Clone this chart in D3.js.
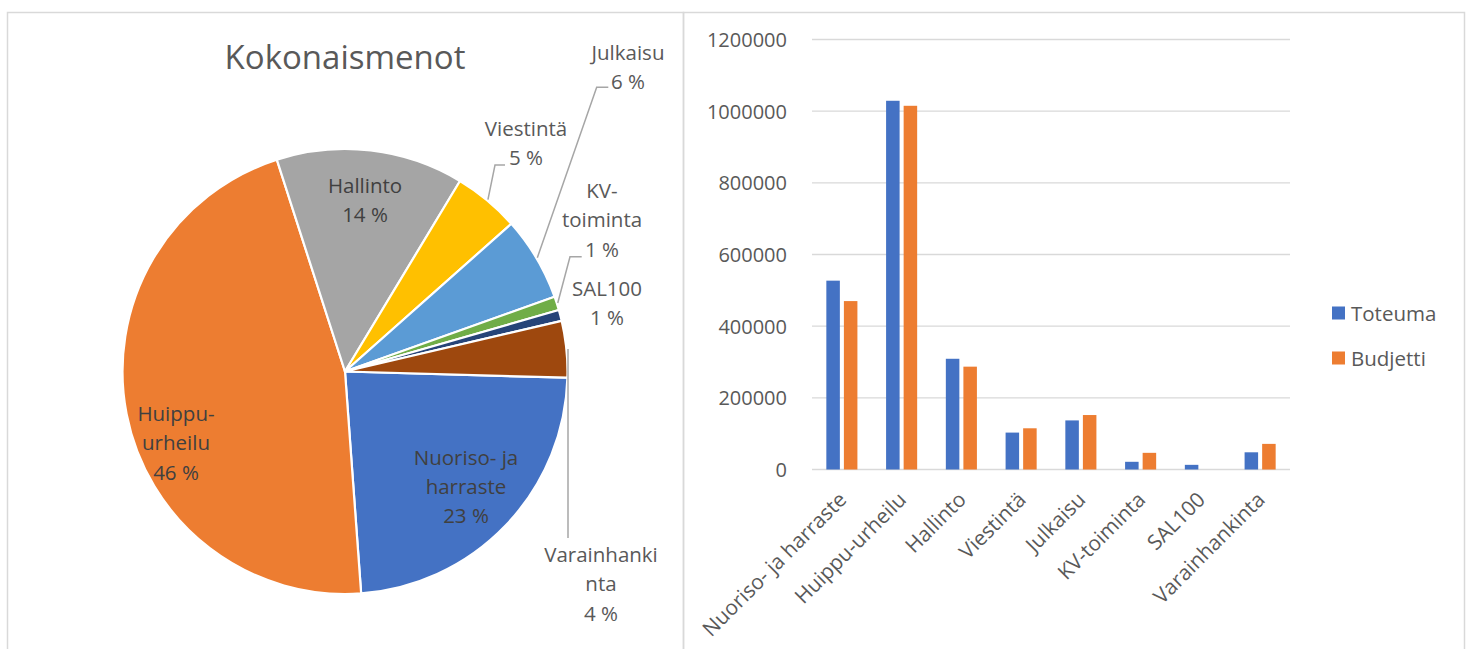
<!DOCTYPE html>
<html><head><meta charset="utf-8">
<script src="https://cdn.jsdelivr.net/npm/d3@7"></script>
<style>
html,body{margin:0;padding:0;background:#fff;}
svg{display:block;font-family:"Open Sans",sans-serif;}
</style></head>
<body>
<svg id="c" width="1471" height="649"></svg>
<script>
// ---- data ----
const categories = ["Nuoriso- ja harraste","Huippu-urheilu","Hallinto","Viestintä","Julkaisu","KV-toiminta","SAL100","Varainhankinta"];
const toteuma = [527000, 1029000, 309000, 103000, 137000, 21500, 13000, 48000];
const budjetti = [470000, 1015000, 287000, 115000, 152000, 46500, 0, 71500];
const seriesNames = ["Toteuma","Budjetti"];
const yTicks = [0, 200000, 400000, 600000, 800000, 1000000, 1200000];
const pieTitle = "Kokonaismenot";
const pieShares = [23.4, 46.2, 13.6, 4.8, 6.1, 1.0, 0.8, 4.1];
const pieNames = [["Nuoriso- ja","harraste"],["Huippu-","urheilu"],["Hallinto"],["Viestintä"],["Julkaisu"],["KV-","toiminta"],["SAL100"],["Varainhanki","nta"]];

// ---- styles / layout ----
const pieColors = ["#4472C4","#ED7D31","#A5A5A5","#FFC000","#5B9BD5","#70AD47","#264478","#9E480E"];
const serColors = ["#4472C4","#ED7D31"];
const txt = "#595959";
const grid = "#D9D9D9";
const svg = d3.select("#c");

// panels
svg.append("rect").attr("x",7.5).attr("y",12.5).attr("width",676).attr("height",700)
  .attr("fill","none").attr("stroke",grid).attr("stroke-width",1.5);
svg.append("rect").attr("x",683.5).attr("y",12.5).attr("width",781).attr("height",700)
  .attr("fill","none").attr("stroke",grid).attr("stroke-width",1.5);

// ---- pie ----
const cx = 345, cy = 371.5, R = 222.5;
const startA = 91.6 * Math.PI / 180;
const pie = d3.pie().sort(null).value(d => d).startAngle(startA).endAngle(startA + 2*Math.PI);
const arcs = pie(pieShares);
const arc = d3.arc().innerRadius(0).outerRadius(R);
const gp = svg.append("g").attr("transform", `translate(${cx},${cy})`);
gp.selectAll("path").data(arcs).join("path")
  .attr("d", arc).attr("fill", (d,i) => pieColors[i])
  .attr("stroke","#fff").attr("stroke-width",2.2).attr("stroke-linejoin","round");

svg.append("text").attr("x", cx).attr("y", 56).attr("text-anchor","middle")
  .attr("dominant-baseline","central").attr("font-size",33).attr("fill",txt).text(pieTitle);

// label layout: [dx, dy of first line] relative to pie centre, and leader bends
const labelPos = [[121,85],[-169,41.5],[20,-186.5],[181,-243.5],[283,-319.5],[257,-181.5],[262,-83.5],[256,182.5]];
const inside = [true,true,true,false,false,false,false,false];
const leaders = [null,null,null,
  [[150,-206.5],[160,-206.5]],
  [[251.7,-284.2],[263.3,-284.2]],
  [[225,-114.8],[236.7,-114.8]],
  null,
  [[223,166.5]]];
const lineH = 29.3;
const outerPt = d3.arc().innerRadius(R+1).outerRadius(R+1);

arcs.forEach((a,i) => {
  const lines = pieNames[i].concat([Math.round(pieShares[i]) + " %"]);
  const [lx, ly] = labelPos[i];
  const t = gp.append("text").attr("text-anchor","middle").attr("font-size",20.5)
    .attr("fill", inside[i] ? "#404040" : txt);
  lines.forEach((l,k) => {
    t.append("tspan").attr("x", lx).attr("y", ly + k*lineH).attr("dominant-baseline","central").text(l);
  });
  if (leaders[i]) {
    const p0 = outerPt.centroid(a);
    let pts = [p0].concat(leaders[i]);
    if (i === 7) pts = [[223, p0[1]]].concat(leaders[i]);
    gp.append("path").attr("d", d3.line()(pts)).attr("fill","none")
      .attr("stroke","#A6A6A6").attr("stroke-width",1.5);
  }
});

// ---- bar chart ----
const x0 = d3.scaleBand().domain(categories).range([812,1290]).paddingInner(0.48).paddingOuter(0.24);
const x1 = d3.scaleBand().domain(seriesNames).range([0, x0.bandwidth()]).paddingInner(0.23);
const y = d3.scaleLinear().domain([0,1200000]).range([469.5, 39.5]);

const gGrid = svg.append("g");
gGrid.selectAll("line").data(yTicks).join("line")
  .attr("x1",812).attr("x2",1290).attr("y1",d=>y(d)).attr("y2",d=>y(d))
  .attr("stroke",grid).attr("stroke-width",1.4);

const yAxis = d3.axisLeft(y).tickValues(yTicks).tickSize(0).tickPadding(0).tickFormat(d3.format("d"));
const ga = svg.append("g").attr("transform","translate(787,0)").call(yAxis);
ga.select(".domain").remove();
ga.selectAll("text").attr("font-size",20).attr("fill",txt).attr("font-family","Open Sans, sans-serif").attr("dy","0.35em");

const data = categories.map((c,i) => ({c, vals:[toteuma[i], budjetti[i]]}));
const gb = svg.append("g");
data.forEach(d => {
  d.vals.forEach((v,k) => {
    gb.append("rect").attr("x", x0(d.c) + x1(seriesNames[k])).attr("width", x1.bandwidth())
      .attr("y", y(v)).attr("height", y(0) - y(v)).attr("fill", serColors[k]);
  });
});

const xAxis = d3.axisBottom(x0).tickSize(0).tickPadding(0);
const gx = svg.append("g").attr("transform","translate(0,501)").call(xAxis);
gx.select(".domain").remove();
gx.selectAll("text").attr("font-size",20.8).attr("fill",txt).attr("font-family","Open Sans, sans-serif")
  .attr("text-anchor","end").attr("dy",0).attr("y",0).attr("x",0)
  .attr("transform","translate(6,0) rotate(-45)");

// legend
const gl = svg.append("g");
seriesNames.forEach((s,k) => {
  const yy = 313 + k*45;
  gl.append("rect").attr("x",1332).attr("y",yy-6.5).attr("width",13).attr("height",13).attr("fill",serColors[k]);
  gl.append("text").attr("x",1351).attr("y",yy).attr("dominant-baseline","central")
    .attr("font-size",20.5).attr("fill",txt).text(s);
});
</script>
</body></html>
